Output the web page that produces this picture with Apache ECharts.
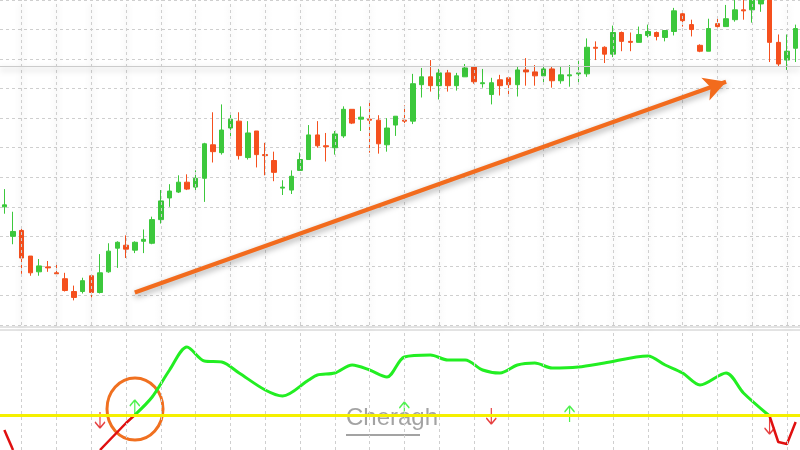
<!DOCTYPE html>
<html><head><meta charset="utf-8">
<script src="https://cdn.jsdelivr.net/npm/echarts@6/dist/echarts.min.js"></script>
<style>html,body{margin:0;padding:0;background:#fff}#c{width:800px;height:450px}</style>
</head><body><div id="c"></div>
<script>
// candles: [open, close, low, high]
const candles = [
[120,122,113,138],[90,95,82,115],[96,68,52,100],[70,53,50,70],[54,60,50,67],[59,58,54,65],[53,52,51,64],[47,35,34,53],
[34,28,25,40],[34,45,32,48],[50,33,28,51],[33,53,32,72],[54,75,53,83],[78,84,58,85],[81,77,68,91],[76,84,73,85],
[85,87,73,97],[83,107,82,110],[107,126,103,137],[129,136,120,143],[135,145,134,152],[145,138,137,153],[140,149,137,157],[149,184,125,185],
[183,176,165,216],[175,198,173,224],[200,209,191,216],[207,172,168,216],[170,195,168,207],[197,173,160,197],[173,172,152,185],[167,155,146,176],
[139,140,132,147],[137,151,133,157],[157,168,157,175],[168,193,168,203],[193,182,180,207],[182,181,166,195],[180,194,173,197],[192,219,190,222],
[219,205,204,219],[209,211,197,222],[209,208,175,227],[208,184,174,213],[183,200,176,210],[203,212,192,212],[208,207,205,223],[207,245,204,255],
[244,252,231,261],[252,243,237,269],[243,256,229,260],[256,243,237,259],[243,253,238,256],[252,261,252,265],[262,247,245,262],[245,246,241,260],
[234,246,224,251],[249,243,233,254],[251,244,232,251],[244,259,232,262],[259,257,243,271],[257,253,243,264],[253,260,245,262],[260,248,241,262],
[248,254,245,263],[253,254,242,264],[255,256,245,268],[255,282,252,291],[282,281,269,288],[282,275,266,283],[275,297,272,304],[297,288,278,298],
[288,287,278,297],[287,295,287,303],[294,298,292,305],[297,293,289,298],[292,299,288,299],[298,319,294,322],[316,309,303,317],[305,300,293,310],
[284,278,277,285],[278,301,278,311],[306,303,302,311],[303,311,303,325],[310,320,308,330],[320,319,310,330],[320,330,307,335],[326,340,318,345],
[330,287,267,340],[287,265,263,295],[269,278,259,295],[281,301,267,305]
];
const categories = candles.map((_, i) => String(i));
const oscIdx = [15,17,19,21,23,25,27,30,32,35,36,38,40,42,44,46,49,51,53,55,57,59,61,63,66,69,74,76,78,80,83,85,88];
const oscVal = [35,53,80,103,89,88,77,60,54,70,75,77,85,80,73,93,95,90,90,80,77,85,87,82,83,87,94,85,77,65,77,57,34];
const redIdx = [0,1];
const redVal = [20,0];
const redIdx1b = [11,12,13,14,15];
const redVal1b = [0,9,18,27,35];
const redIdx2 = [88,89,90,91];
const redVal2 = [34,8,6,28];
const upArrows = [[15,42],[46,40],[65,36]];
const downArrows = [[11,30],[56,34],[88,24]];
const signalLevel = 35;
const lastPrice = 263;
const trendFrom = [15,33], trendTo = [83,247];

const n = categories.length;
const toArr = (idx, val) => { const a = new Array(n).fill(null); idx.forEach((k,j)=>a[k]=val[j]); return a; };
const osc = toArr(oscIdx, oscVal);
const red1 = toArr(redIdx, redVal);
const red1b = toArr(redIdx1b, redVal1b);
const red2 = toArr(redIdx2, redVal2);
const vlines = []; for (let i = 2; i < n; i += 4) vlines.push({xAxis: i});
const gridLine = {color:'#cfcfcf', type:[3,3], width:1};
const upPath = 'path://M5 0 L0 6 M5 0 L10 6 M5 0 L5 16';
const downPath = 'path://M5 16 L0 10 M5 16 L10 10 M5 16 L5 0';
const redLine = d => ({type:'line',xAxisIndex:1,yAxisIndex:1,data:d,symbol:'none',lineStyle:{color:'#e01010',width:2.5}});

const chart = echarts.init(document.getElementById('c'));
chart.setOption({
  animation:false,
  grid:[{left:0,right:0,top:-5,height:330},{left:0,right:0,top:332,height:118}],
  xAxis:[
    {type:'category',data:categories,gridIndex:0,axisLine:{show:false},axisTick:{show:false},axisLabel:{show:false},splitLine:{show:false}},
    {type:'category',data:categories,gridIndex:1,axisLine:{show:false},axisTick:{show:false},axisLabel:{show:false},splitLine:{show:false}}
  ],
  yAxis:[
    {type:'value',gridIndex:0,min:0,max:330,interval:30,axisLine:{show:false},axisLabel:{show:false},axisTick:{show:false},splitLine:{lineStyle:{color:'#cfcfcf',type:[3,3]}}},
    {type:'value',gridIndex:1,min:0,max:118,axisLine:{show:false},axisLabel:{show:false},axisTick:{show:false},splitLine:{show:false}}
  ],
  series:[
    {type:'candlestick',xAxisIndex:0,yAxisIndex:0,data:candles,barWidth:5,clip:true,
     itemStyle:{color:'#3cc83c',color0:'#f5501e',borderColor:'#3cc83c',borderColor0:'#f5501e',borderWidth:1},
     markLine:{silent:true,symbol:'none',label:{show:false},data:[
       ...vlines.map(d=>({xAxis:d.xAxis,lineStyle:gridLine})),
       {yAxis:lastPrice,lineStyle:{color:'#cccccc',type:'solid',width:1}},
       [{coord:trendFrom,symbol:'none'},{coord:trendTo,symbol:'arrow',symbolSize:[18,22]}]
     ],lineStyle:{color:'#f26b1d',width:4,type:'solid',shadowBlur:6,shadowColor:'rgba(0,0,0,0.35)',shadowOffsetY:3}}},
    {type:'line',xAxisIndex:1,yAxisIndex:1,data:osc,connectNulls:true,smooth:0.3,symbol:'none',
     lineStyle:{color:'#22ee22',width:3},
     markLine:{silent:true,symbol:'none',label:{show:false},lineStyle:gridLine,
       data:vlines.concat([{yAxis:signalLevel,lineStyle:{color:'#f5f000',type:'solid',width:3}}])}},
    redLine(red1), redLine(red1b), redLine(red2),
    {type:'scatter',xAxisIndex:1,yAxisIndex:1,data:upArrows,symbol:upPath,symbolSize:[10,16],itemStyle:{color:'transparent',borderColor:'#22ee22',borderWidth:1.5}},
    {type:'scatter',xAxisIndex:1,yAxisIndex:1,data:downArrows,symbol:downPath,symbolSize:[10,16],itemStyle:{color:'transparent',borderColor:'#e01010',borderWidth:1.5}}
  ],
  graphic:[
    {type:'line',shape:{x1:0,y1:327,x2:800,y2:327},style:{stroke:'#c8c8c8',lineWidth:1}},
    {type:'line',shape:{x1:0,y1:330,x2:800,y2:330},style:{stroke:'#c8c8c8',lineWidth:1}},
    {type:'ellipse',shape:{cx:135,cy:409,rx:28,ry:31},style:{fill:'none',stroke:'#f07020',lineWidth:3}},
    {type:'text',left:346,top:406,style:{text:'Cheragh',font:'24px "Liberation Sans Narrow", "Liberation Sans", sans-serif',fill:'rgba(140,140,140,0.8)'}},
    {type:'line',shape:{x1:346,y1:435,x2:420,y2:435},style:{stroke:'rgba(140,140,140,0.8)',lineWidth:2}}
  ]
});
</script></body></html>
